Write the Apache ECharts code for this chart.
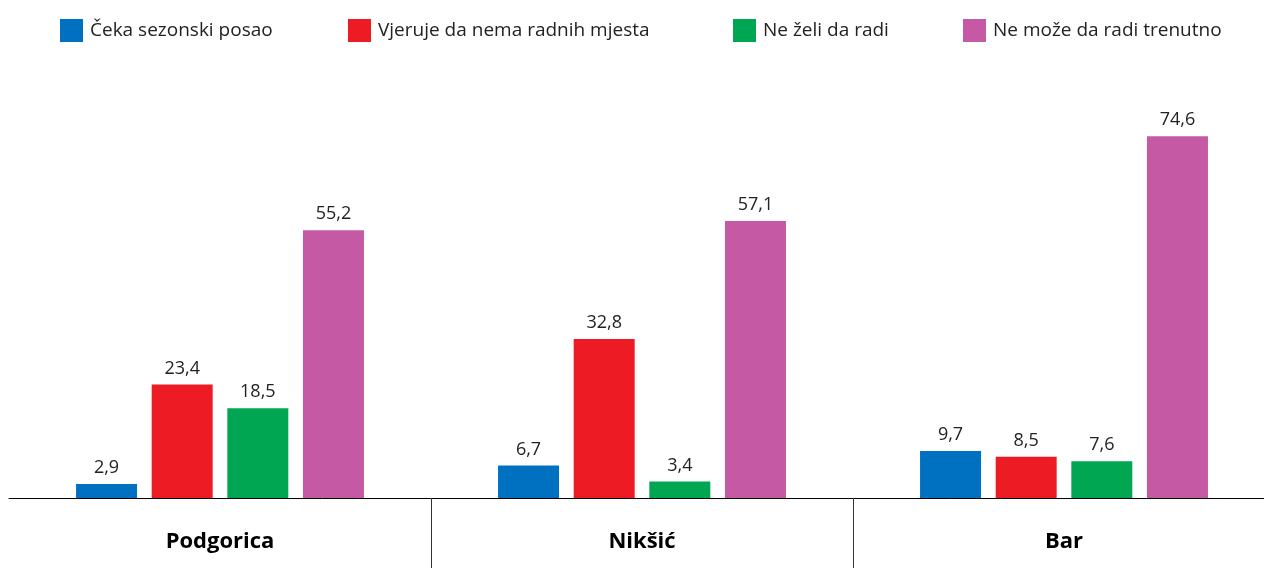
<!DOCTYPE html>
<html>
<head>
<meta charset="utf-8">
<script src="https://cdn.jsdelivr.net/npm/echarts@6/dist/echarts.min.js"></script>
<style>
  html, body { margin: 0; padding: 0; background: #fff; }
  #chart { width: 1264px; height: 568px; }
</style>
</head>
<body>
<div id="chart"></div>
<script>
const cities = ['Podgorica', 'Nikšić', 'Bar'];
const seriesNames = ['Čeka sezonski posao', 'Vjeruje da nema radnih mjesta', 'Ne želi da radi', 'Ne može da radi trenutno'];
const sezonski = [2.9, 6.7, 9.7];
const nemaMjesta = [23.4, 32.8, 8.5];
const neZeli = [18.5, 3.4, 7.6];
const neMoze = [55.2, 57.1, 74.6];
const colors = ['#0070c0', '#ed1c24', '#00a651', '#c659a3'];
const legendLeft = [55, 343, 728, 958];

const chart = echarts.init(document.getElementById('chart'));
const font = '"Open Sans", Lato, sans-serif';

const makeSeries = (name, data, i) => ({
  name,
  type: 'bar',
  data,
  barWidth: 61,
  barGap: '24%',
  itemStyle: { color: colors[i] },
  label: {
    show: true,
    position: 'top',
    distance: 7,
    color: '#222',
    fontFamily: font,
    fontSize: 18,
    formatter: p => p.value.toFixed(1).replace('.', ',')
  }
});

chart.setOption({
  animation: false,
  color: colors,
  legend: seriesNames.map((name, i) => ({
    top: 14,
    left: legendLeft[i],
    itemWidth: 23,
    itemHeight: 23,
    icon: 'rect',
    textStyle: { color: '#222', fontFamily: font, fontSize: 19, padding: [0, 0, 0, 2] },
    data: [name]
  })),
  grid: { left: 9, width: 1266, top: 110, bottom: 70, outerBoundsMode: 'none' },
  xAxis: {
    type: 'category',
    data: cities,
    axisLine: { lineStyle: { color: '#000', width: 1 } },
    axisTick: {
      show: true,
      length: 72,
      interval: (idx) => idx > 0,
      lineStyle: { color: '#333', width: 1 }
    },
    axisLabel: {
      margin: 33,
      color: '#000',
      fontFamily: font,
      fontSize: 22,
      fontWeight: 'bold'
    }
  },
  yAxis: {
    type: 'value',
    min: 0,
    max: 80,
    show: false,
    splitLine: { show: false }
  },
  series: [
    makeSeries(seriesNames[0], sezonski, 0),
    makeSeries(seriesNames[1], nemaMjesta, 1),
    makeSeries(seriesNames[2], neZeli, 2),
    makeSeries(seriesNames[3], neMoze, 3)
  ]
});
</script>
</body>
</html>
